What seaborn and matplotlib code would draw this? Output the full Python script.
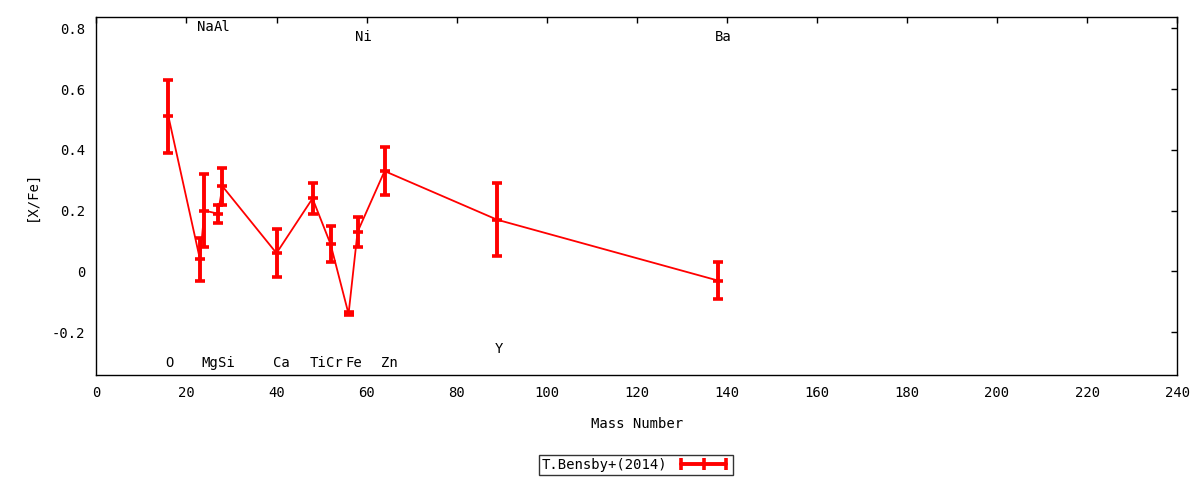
import numpy as np
import pandas as pd
import matplotlib
matplotlib.use("Agg")
import matplotlib.pyplot as plt
import seaborn as sns
from matplotlib.lines import Line2D
from matplotlib.ticker import FormatStrFormatter

# ----------------------------------
# Data
# ----------------------------------

elements = ["O", "Na", "Mg", "Al", "Si", "Ca", "Ti", "Cr", "Fe", "Ni", "Zn", "Y", "Ba"]
mass = [16, 23, 24, 27, 28, 40, 48, 52, 56, 58, 64, 89, 138]
xfe = [0.51, 0.04, 0.20, 0.19, 0.28, 0.06, 0.24, 0.09, -0.14, 0.13, 0.33, 0.17, -0.03]
err = [0.12, 0.07, 0.12, 0.03, 0.06, 0.08, 0.05, 0.06, 0.005, 0.05, 0.08, 0.12, 0.06]

# element name labels (positions as drawn)
label_x = [16.2, 24.2, 25.2, 27.9, 28.8, 41.1, 49.2, 52.9, 57.1, 59.2, 65.1, 89.3, 139.3]
label_y = [-0.302, 0.804, -0.302, 0.804, -0.302, -0.302, -0.302, -0.302, -0.302,
           0.771, -0.302, -0.255, 0.771]

xticks = list(range(0, 241, 20))
yticks = [-0.2, 0, 0.2, 0.4, 0.6, 0.8]

df = pd.DataFrame({"Mass": mass, "XFe": xfe, "Err": err})

# ----------------------------------
# Style
# ----------------------------------

sns.set_style("white")
plt.rcParams["font.family"] = ["DejaVu Sans Mono"]
plt.rcParams["text.color"] = "black"
plt.rcParams["axes.labelcolor"] = "black"
fs = 10

fig = plt.figure(figsize=(12, 4.8), dpi=100)
ax = fig.add_axes([0.0803, 0.218, 0.9007, 0.746])

red = "#ff0000"

sns.lineplot(data=df, x="Mass", y="XFe", color=red, linewidth=1.3,
             sort=False, ax=ax, legend=False)

ax.errorbar(df["Mass"], df["XFe"], yerr=df["Err"], fmt="none",
            ecolor=red, elinewidth=2.8, capsize=3.4, capthick=2.6)
ax.plot(df["Mass"], df["XFe"], linestyle="none", marker="_",
        markersize=7, markeredgewidth=2.6, color=red)

for name, lx, ly in zip(elements, label_x, label_y):
    ax.text(lx, ly, name, ha="center", va="center", fontsize=fs, color="black")

ax.set_xlim(0, 240)
ax.set_ylim(-0.342, 0.836)
ax.set_xticks(xticks)
ax.set_yticks(yticks)
ax.yaxis.set_major_formatter(FormatStrFormatter("%g"))

ax.tick_params(direction="in", top=True, right=True, length=4.5,
               width=1, pad=8, labelsize=fs, colors="black")
for s in ax.spines.values():
    s.set_color("black")
    s.set_linewidth(1)

ax.set_xlabel("Mass Number", fontsize=fs, color="black")
ax.set_ylabel("[X/Fe]", fontsize=fs, color="black")
ax.xaxis.set_label_coords(0.5, -0.136)
ax.xaxis.label.set_va("center")
ax.yaxis.set_label_coords(-0.0595, 0.5)
ax.yaxis.label.set_va("center")

handle = Line2D([], [], color=red, linewidth=2.8, marker="|",
                markersize=8, markeredgewidth=2.6)
leg = fig.legend([handle], ["T.Bensby+(2014)"], loc="center",
                 bbox_to_anchor=(0.53, 0.031), markerfirst=False,
                 numpoints=3, frameon=True, fancybox=False,
                 borderpad=0.2, handlelength=3.8, handletextpad=0.7,
                 fontsize=fs, labelcolor="black")
leg.get_frame().set_edgecolor("black")
leg.get_frame().set_linewidth(1)

fig.savefig("out.png", dpi=100)
plt.close(fig)
